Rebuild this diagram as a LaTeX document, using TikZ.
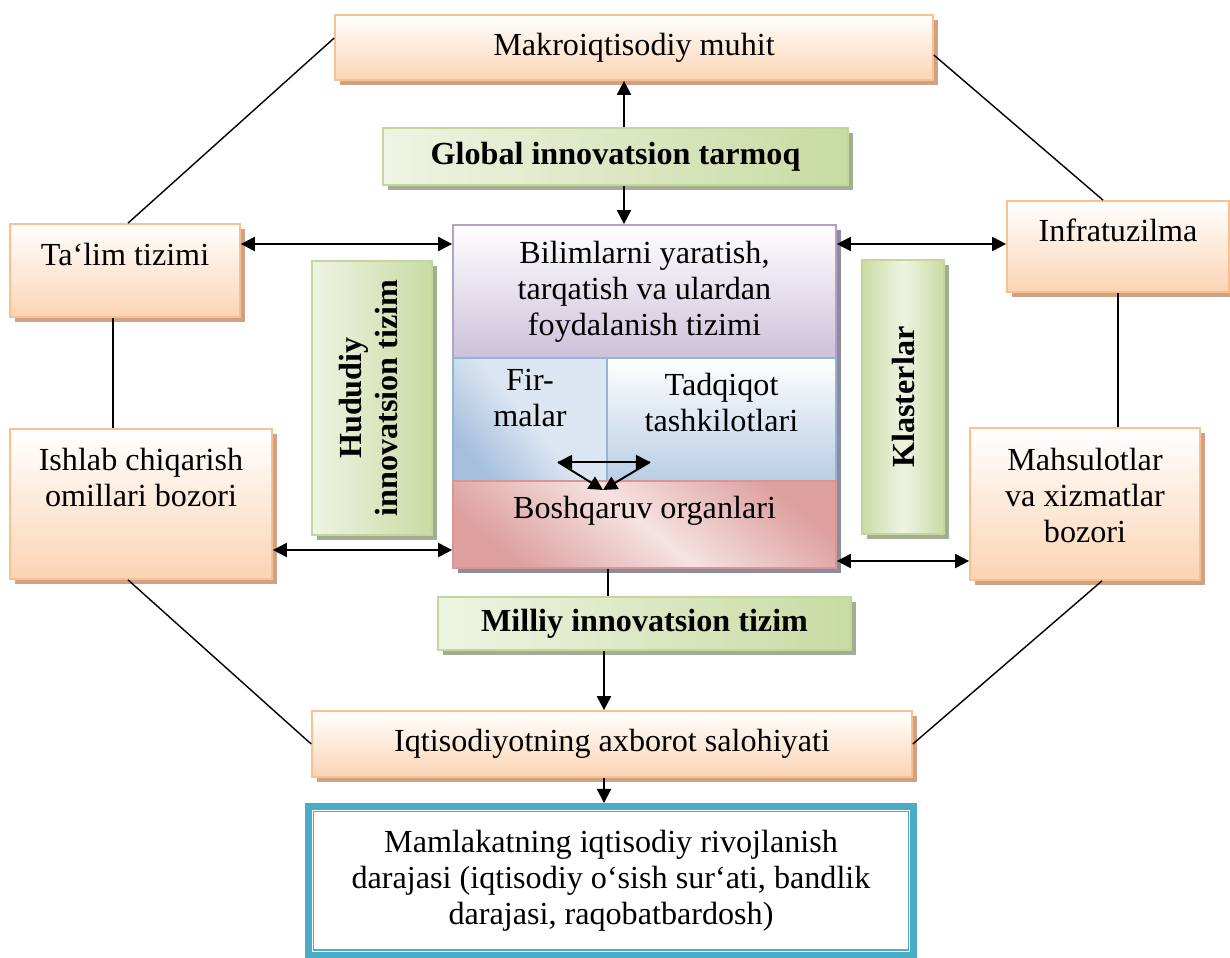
\documentclass[tikz,border=0pt]{standalone}
\usepackage{fontspec}
\setmainfont{Liberation Serif}
\usetikzlibrary{arrows.meta,shadows}

\definecolor{OrBd}{HTML}{FAC090}
\definecolor{OrFl}{HTML}{FBD4B4}
\definecolor{OrSh}{HTML}{CFA283}
\definecolor{GrBd}{HTML}{C3D69B}
\definecolor{GrFl}{HTML}{C9DBA3}
\definecolor{GrLt}{HTML}{EEF4E3}
\definecolor{GrSh}{HTML}{A3AD93}
\definecolor{PuBd}{HTML}{B3A2C7}
\definecolor{PuFl}{HTML}{CCC1DA}
\definecolor{BlBd}{HTML}{95B3D7}
\definecolor{BlFl}{HTML}{B9CDE5}
\definecolor{BlLt}{HTML}{DCE6F2}
\definecolor{RdBd}{HTML}{D99694}
\definecolor{RdFl}{HTML}{DDA09F}
\definecolor{RdLt}{HTML}{F5E3E2}
\definecolor{CtSh}{HTML}{8C8C9C}
\definecolor{Teal}{HTML}{4BACC6}

\newcommand{\boxfont}{\fontsize{18.3}{20.5}\selectfont}

\tikzset{
	obox/.style = {draw=OrBd, top color=white, bottom color=OrFl,
		drop shadow={shadow xshift=0.1cm, shadow yshift=-0.1cm, fill=OrSh, opacity=1}},
	gbox/.style = {draw=GrBd, font=\boxfont\bfseries,
		drop shadow={shadow xshift=0.1cm, shadow yshift=-0.1cm, fill=GrSh, opacity=1}},
	cbox/.style = {drop shadow={shadow xshift=0.1cm, shadow yshift=-0.1cm, fill=CtSh, opacity=1}},
	tbox/.style = {draw=Teal, line width=0.14cm, fill=white}
}

\begin{document}
\begin{tikzpicture}[x=0.02cm, y=-0.02cm]
	\useasboundingbox (0,0) rectangle (1230,957);
	\begin{scope}[every node/.style = {rectangle, line width=1pt, align=center,
			inner sep=2pt, font=\boxfont}]
		\node [obox, minimum width=11.96cm, minimum height=1.3cm] (Mak) at (634,47.5) {Makroiqtisodiy muhit};
		\node [gbox, left color=GrLt, right color=GrFl, minimum width=9.3cm, minimum height=1.14cm] (Glob) at (615.5,156.5) {Global innovatsion tarmoq};
		\node [obox, minimum width=4.6cm, minimum height=1.86cm, text depth=18pt] (Tal) at (125,270.5) {Ta‘lim tizimi};
		\node [obox, minimum width=4.44cm, minimum height=1.82cm, text depth=19pt] (Inf) at (1118,246.5) {Infratuzilma};
		\node [cbox, draw=PuBd, top color=white, bottom color=PuFl, minimum width=7.66cm, minimum height=2.66cm] (Bil) at (644.5,291.5) {Bilimlarni yaratish,\\tarqatish va ulardan\\foydalanish tizimi};
		\node [cbox, draw=BlBd, top color=BlLt, bottom color=BlBd!85, middle color=BlLt, shading angle=-50, minimum width=3.08cm, minimum height=2.46cm, text depth=25pt] (Fir) at (530,419.5) {Fir-\\malar};
		\node [cbox, draw=BlBd, top color=white, bottom color=BlFl, minimum width=4.58cm, minimum height=2.46cm, text depth=20pt] (Tad) at (721.5,419.5) {Tadqiqot\\tashkilotlari};
		\node [cbox, draw=RdBd, top color=RdFl, bottom color=RdFl, middle color=RdLt, shading angle=-40, minimum width=7.66cm, minimum height=1.74cm, text depth=19pt] (Bos) at (644.5,524.5) {Boshqaruv organlari};
		\node [gbox, left color=GrLt, right color=GrFl, minimum width=2.4cm, minimum height=5.48cm] (Hud) at (372,398) {\rotatebox{90}{\begin{tabular}{@{}c@{}}Hududiy\\innovatsion tizim\end{tabular}}};
		\node [gbox, left color=GrFl, right color=GrFl, middle color=GrLt, minimum width=1.64cm, minimum height=5.48cm] (Kla) at (903,397) {\rotatebox{90}{Klasterlar}};
		\node [obox, minimum width=5.24cm, minimum height=3cm, text depth=30pt] (Ish) at (141,504) {Ishlab chiqarish\\omillari bozori};
		\node [obox, minimum width=4.6cm, minimum height=3.04cm, text depth=10pt] (Mah) at (1085,504) {Mahsulotlar\\va xizmatlar\\bozori};
		\node [gbox, left color=GrLt, right color=GrFl, minimum width=8.26cm, minimum height=1.06cm] (Mil) at (644.5,623.5) {Milliy innovatsion tizim};
		\node [obox, minimum width=12cm, minimum height=1.32cm] (Iqt) at (612,744) {Iqtisodiyotning axborot salohiyati};
		\node [tbox, minimum width=12.1cm, minimum height=2.97cm] (Mam) at (611,880.75) {Mamlakatning iqtisodiy rivojlanish\\darajasi (iqtisodiy o‘sish sur‘ati, bandlik\\darajasi, raqobatbardosh)};
	\end{scope}
	\draw [Teal, line width=0.7pt] ([shift={(0.17cm,-0.17cm)}]Mam.north west) rectangle ([shift={(-0.17cm,0.17cm)}]Mam.south east);
	% thin links round the frame
	\begin{scope}[every edge/.style={draw=black, line width=0.8pt}]
		\path (Mak.west |- 0,38) edge (Tal.north -| 128,0);
		\path (Mak.east |- 0,55) edge (Inf.north -| 1103,0);
		\path (Tal.south -| 113,0) edge (Ish.north -| 113,0);
		\path (Inf.south) edge (Inf.south |- Mah.north);
		\path (Ish.south -| 128,0) edge (Iqt.west);
		\path (Mah.south -| 1102,0) edge (Iqt.east);
		\path (Bos.south -| 608,0) edge (Mil.north -| 608,0);
	\end{scope}
	% arrows
	\begin{scope}[>={Triangle[black, length=8pt, width=8pt]},
			every edge/.style={draw=black, line width=1.1pt}]
		\coordinate (TL) at (558,462);
		\coordinate (TR) at (650,462);
		\coordinate (TB) at (603,490);
		\path [->] (Glob.north -| 624,0) edge (Mak.south -| 624,0);
		\path [->] (Glob.south -| 624,0) edge (Bil.north -| 624,0);
		\path [<->] (Tal.east |- 0,244) edge (Bil.west |- 0,244);
		\path [<->] (Bil.east |- 0,244) edge (Inf.west |- 0,244);
		\path [<->] (Ish.east |- 0,550) edge (Bos.west |- 0,550);
		\path [<->] (Bos.east |- 0,561) edge (Mah.west |- 0,561);
		\path [->] (Mil.south -| 604,0) edge (Iqt.north -| 604,0);
		\path [->] (Iqt.south -| 604,0) edge (Mam.north -| 604,0);
		\path [<->] (TL) edge (TR);
		\path [->] (TL) edge (TB);
		\path [->] (TR) edge (TB);
	\end{scope}
\end{tikzpicture}
\end{document}
